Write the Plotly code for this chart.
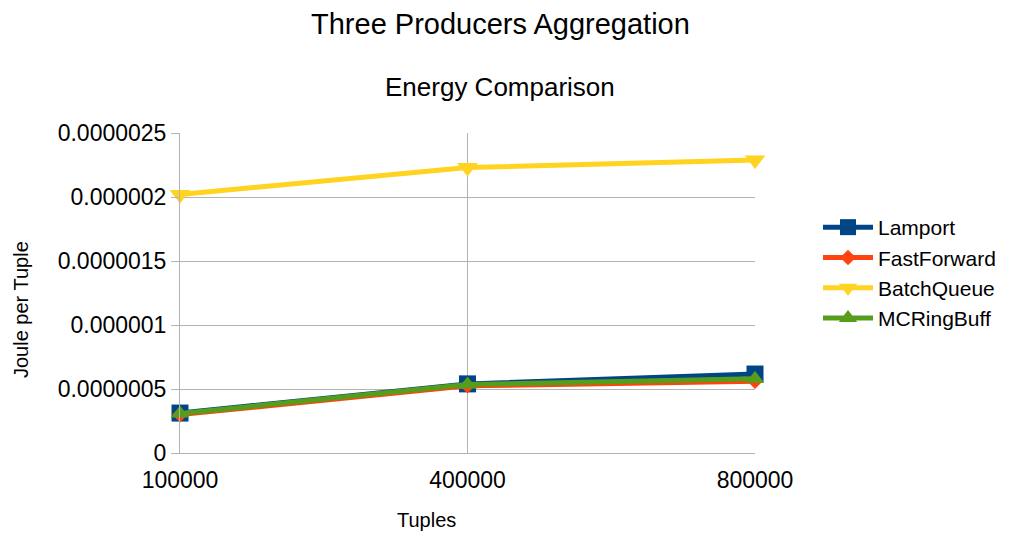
import plotly.graph_objects as go

categories = ["100000", "400000", "800000"]
lamport = [0.000000312, 0.000000540, 0.000000617]
fastforward = [0.000000300, 0.000000525, 0.000000560]
batchqueue = [0.00000202, 0.00000223, 0.00000229]
mcringbuff = [0.000000308, 0.000000535, 0.000000580]
y_tickvals = [0, 0.0000005, 0.000001, 0.0000015, 0.000002, 0.0000025]
y_ticktext = ["0", "0.0000005", "0.000001", "0.0000015", "0.000002", "0.0000025"]

# page body has an 8px margin; work in window pixels
OFF = 8
W, H = 995, 523
left, top, pw, ph = 180 - OFF, 133 - OFF, 575, 320
right = W - left - pw
bottom = H - top - ph

def px(xw):
    return (xw - OFF - left) / pw

def py(yw):
    return (H - bottom - (yw - OFF)) / ph

fig = go.Figure()
series = [
    ("Lamport", lamport, "#004586", "square", 17),
    ("FastForward", fastforward, "#ff420e", "diamond", 12),
    ("BatchQueue", batchqueue, "#ffd320", "triangle-down", 18),
    ("MCRingBuff", mcringbuff, "#579d1c", "triangle-up", 16),
]
for name, vals, color, sym, sz in series:
    fig.add_trace(go.Scatter(
        x=categories, y=vals, name=name, mode="lines+markers",
        line=dict(color=color, width=5),
        marker=dict(symbol=sym, size=sz, color=color),
        cliponaxis=False,
    ))

fig.update_layout(
    width=W, height=H,
    paper_bgcolor="white", plot_bgcolor="white",
    margin=dict(l=left, r=right, t=top, b=bottom, autoexpand=False),
    font=dict(family="Liberation Sans, Arial, sans-serif", color="black"),
    showlegend=True,
    legend=dict(x=px(818), y=py(273), xanchor="left", yanchor="middle",
                font=dict(size=21), tracegroupgap=0, itemwidth=50),
)
fig.add_annotation(text="Three Producers Aggregation", x=px(500), y=py(24),
                   xref="paper", yref="paper", showarrow=False,
                   xanchor="center", yanchor="middle", font=dict(size=29))
fig.add_annotation(text="Energy Comparison", x=px(500), y=py(87),
                   xref="paper", yref="paper", showarrow=False,
                   xanchor="center", yanchor="middle", font=dict(size=26))
fig.add_annotation(text="Tuples", x=px(426), y=py(520),
                   xref="paper", yref="paper", showarrow=False,
                   xanchor="center", yanchor="middle", font=dict(size=20))
fig.add_annotation(text="Joule per Tuple", x=px(21), y=py(310), textangle=-90,
                   xref="paper", yref="paper", showarrow=False,
                   xanchor="center", yanchor="middle", font=dict(size=20))

fig.update_xaxes(
    type="category", range=[0, 2], showgrid=True, gridcolor="#b3b3b3", gridwidth=1,
    showline=True, linecolor="#b3b3b3", ticks="", tickfont=dict(size=23),
    ticklabelstandoff=6, zeroline=False,
)
fig.update_yaxes(
    range=[0, 0.0000025], tickvals=y_tickvals, ticktext=y_ticktext,
    showgrid=True, gridcolor="#b3b3b3", gridwidth=1,
    showline=True, linecolor="#b3b3b3", ticks="outside", ticklen=8, tickcolor="#b3b3b3",
    tickfont=dict(size=23), zeroline=False,
)

fig.write_html("out.html")
